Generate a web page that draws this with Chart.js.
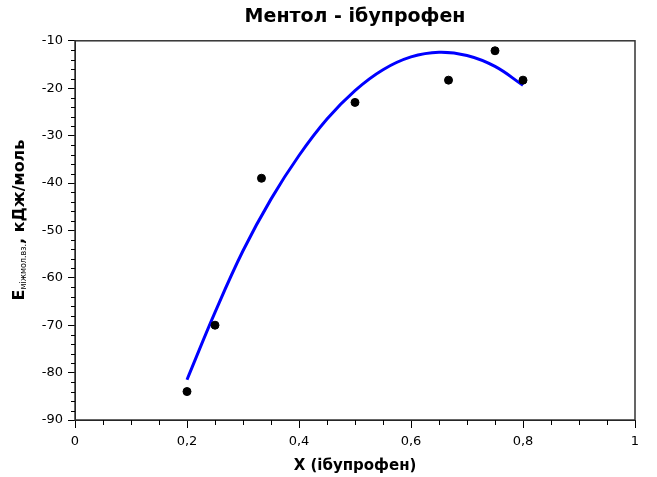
<!DOCTYPE html>
<html>
<head>
<meta charset="utf-8">
<script src="https://cdn.jsdelivr.net/npm/chart.js@4.4.1/dist/chart.umd.min.js"></script>
<style>
  html, body { margin: 0; padding: 0; background: #fff; }
  #wrap { width: 657px; height: 477px; }
</style>
</head>
<body>
<div id="wrap"><canvas id="fitChart" width="657" height="477"></canvas></div>
<script>
(() => {

    // --------- Дані ---------
    const pointX = [0.2, 0.25, 0.333, 0.5, 0.667, 0.75, 0.8];
    const pointY = [-84, -70, -39, -23, -18.3, -12.1, -18.3];

    // апроксимуюча крива
    const fitX = [0.2, 0.25, 0.3, 0.35, 0.4, 0.45, 0.5, 0.55, 0.6, 0.65, 0.7, 0.75, 0.8];
    const fitY = [-81.5, -67.3, -54.3, -43.4, -34.2, -26.5, -20.5, -16.1, -13.4, -12.4, -13.1, -15.4, -19.4];

    const xTicks = [0, 0.2, 0.4, 0.6, 0.8, 1];
    const xTickLabels = ['0', '0,2', '0,4', '0,6', '0,8', '1'];
    const yTicks = [-90, -80, -70, -60, -50, -40, -30, -20, -10];
    const yTickLabels = ['-90', '-80', '-70', '-60', '-50', '-40', '-30', '-20', '-10'];

    const FONT = "'DejaVu Sans', Verdana, sans-serif";

    // --------- Рамка навколо області графіка ---------
    const chartFrame = {
        id: 'chartFrame',
        afterDraw(chart) {
            const { ctx, chartArea: a } = chart;
            ctx.save();
            ctx.strokeStyle = '#333';
            ctx.lineWidth = 1.5;
            ctx.strokeRect(a.left, a.top, a.right - a.left, a.bottom - a.top);
            ctx.restore();
        }
    };

    // --------- Проміжні поділки на осях ---------
    const minorTicks = {
        id: 'minorTicks',
        afterDraw(chart) {
            const { ctx, scales: { x, y } } = chart;
            ctx.save();
            ctx.strokeStyle = '#000';
            ctx.lineWidth = 1;
            ctx.beginPath();
            for (let i = 1; i < 20; i++) {
                if (i % 4 === 0) continue;
                const px = Math.round(x.getPixelForValue(i / 20)) + 0.5;
                ctx.moveTo(px, y.bottom);
                ctx.lineTo(px, y.bottom + 5);
            }
            for (let v = -88; v < -10; v += 2) {
                if (v % 10 === 0) continue;
                const py = Math.round(y.getPixelForValue(v)) + 0.5;
                ctx.moveTo(x.left, py);
                ctx.lineTo(x.left - 4, py);
            }
            ctx.stroke();
            ctx.restore();
        }
    };

    // --------- Підпис осі Y з нижнім індексом ---------
    const yTitle = {
        id: 'yTitle',
        afterDraw(chart) {
            const { ctx } = chart;
            const parts = [
                { text: 'E', font: `bold 16px ${FONT}`, dy: 0 },
                { text: 'міжмол.вз.', font: `8px ${FONT}`, dy: 4 },
                { text: ', кДж/моль', font: `bold 16px ${FONT}`, dy: 0 }
            ];
            ctx.save();
            let total = 0;
            parts.forEach(p => { ctx.font = p.font; p.w = ctx.measureText(p.text).width; total += p.w; });
            ctx.translate(20, 220);
            ctx.rotate(-Math.PI / 2);
            ctx.fillStyle = '#000';
            ctx.textBaseline = 'middle';
            let cx = -total / 2;
            parts.forEach(p => {
                ctx.font = p.font;
                ctx.fillText(p.text, cx, p.dy);
                cx += p.w;
            });
            ctx.restore();
        }
    };

    const chartEl = document.getElementById('fitChart');
    new Chart(chartEl, {
        type: 'scatter',
        data: {
            datasets: [{
                label: 'експеримент',
                data: pointX.map((x, i) => ({ x, y: pointY[i] })),
                backgroundColor: '#000',
                borderColor: '#000',
                pointRadius: 4,
                order: 0
            }, {
                label: 'апроксимація',
                data: fitX.map((x, i) => ({ x, y: fitY[i] })),
                showLine: true,
                borderColor: '#0000ff',
                borderWidth: 3,
                pointRadius: 0,
                tension: 0.4,
                order: 1
            }]
        },
        options: {
            responsive: false,
            animation: false,
            layout: { padding: { left: 0, right: 22, top: 0, bottom: 0 } },
            plugins: {
                legend: { display: false },
                tooltip: { enabled: false },
                title: {
                    display: true,
                    fullSize: false,
                    text: 'Ментол - ібупрофен',
                    color: '#000',
                    font: { family: FONT, size: 19, weight: 'bold' },
                    padding: { top: 6, bottom: 12 }
                }
            },
            scales: {
                x: {
                    type: 'linear',
                    min: 0,
                    max: 1,
                    afterBuildTicks: s => { s.ticks = xTicks.map(v => ({ value: v })); },
                    afterFit: s => { s.height = 57; },
                    grid: { drawOnChartArea: false, tickLength: 8, tickColor: '#000' },
                    border: { color: '#000', width: 1 },
                    ticks: {
                        color: '#000',
                        maxRotation: 0,
                        padding: 6,
                        font: { family: FONT, size: 13 },
                        callback: (v, i) => xTickLabels[i]
                    },
                    title: {
                        display: true,
                        text: 'X (ібупрофен)',
                        color: '#000',
                        font: { family: FONT, size: 15, weight: 'bold' },
                        padding: { top: 0, bottom: 2 }
                    }
                },
                y: {
                    min: -90,
                    max: -10,
                    afterBuildTicks: s => { s.ticks = yTicks.map(v => ({ value: v })); },
                    afterFit: s => { s.width = 75; },
                    grid: { drawOnChartArea: false, tickLength: 7, tickColor: '#000' },
                    border: { color: '#000', width: 1 },
                    ticks: {
                        color: '#000',
                        padding: 5,
                        font: { family: FONT, size: 13 },
                        callback: (v, i) => yTickLabels[i]
                    }
                }
            }
        },
        plugins: [chartFrame, minorTicks, yTitle]
    });

})();
</script>
</body>
</html>
